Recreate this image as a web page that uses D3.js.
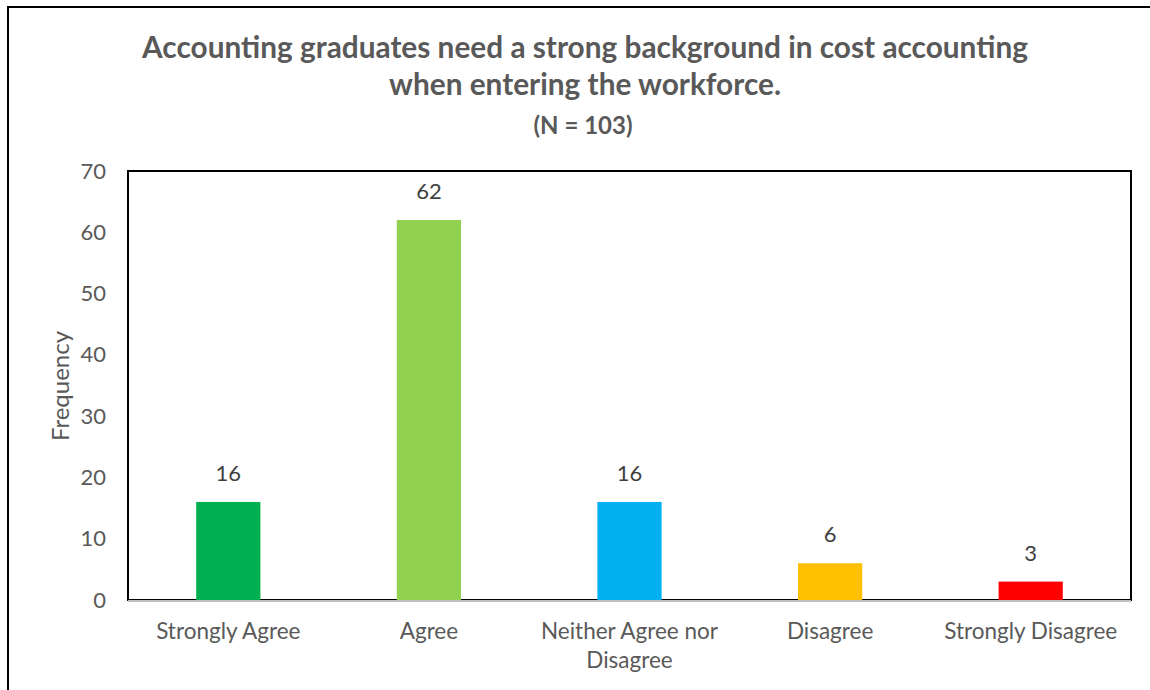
<!DOCTYPE html>
<html><head><meta charset="utf-8">
<script src="https://cdn.jsdelivr.net/npm/d3@7"></script>
<style>body{margin:0;background:#fff;} svg{display:block;}</style>
</head><body>
<svg id="chart" width="1150" height="690"></svg>
<script>
const categories = ["Strongly Agree", "Agree", "Neither Agree nor Disagree", "Disagree", "Strongly Disagree"];
const values = [16, 62, 16, 6, 3];
const colors = ["#00B050", "#92D050", "#00B0F0", "#FFC000", "#FF0000"];
const yTicks = [0, 10, 20, 30, 40, 50, 60, 70];
const titleLines = ["Accounting graduates need a strong background in cost accounting", "when entering the workforce."];
const subtitle = "(N = 103)";
const yLabel = "Frequency";

const svg = d3.select("#chart");
const font = "Lato, 'Open Sans', sans-serif";
const m = {left: 128, top: 171, right: 1131, bottom: 600};

// outer border
svg.append("rect").attr("x", 8).attr("y", 7).attr("width", 1160).attr("height", 700)
  .attr("fill", "none").attr("stroke", "#000").attr("stroke-width", 2);

const x = d3.scaleBand().domain(categories).range([m.left, m.right]).paddingInner(0.68).paddingOuter(0.34);
const y = d3.scaleLinear().domain([0, 70]).range([m.bottom, m.top]);

// title
const t = svg.append("g").attr("font-family", font).attr("font-weight", "bold").attr("fill", "#595959").attr("text-anchor", "middle");
titleLines.forEach((l, i) => t.append("text").attr("x", 585).attr("y", 58 + i * 37).attr("font-size", 29.8).text(l));
t.append("text").attr("x", 583).attr("y", 134).attr("font-size", 24).text(subtitle);

// plot frame
svg.append("rect").attr("x", m.left).attr("y", m.top).attr("width", m.right - m.left).attr("height", m.bottom - m.top)
  .attr("fill", "none").attr("stroke", "#000").attr("stroke-width", 2);

// bars
svg.append("g").selectAll("rect").data(values).join("rect")
  .attr("x", (d, i) => x(categories[i]))
  .attr("y", d => y(d))
  .attr("width", x.bandwidth())
  .attr("height", d => y(0) - y(d))
  .attr("fill", (d, i) => colors[i]);

// x axis line (gray)
svg.append("line").attr("x1", m.left).attr("x2", m.right).attr("y1", y(0) + 1).attr("y2", y(0) + 1)
  .attr("stroke", "#bfbfbf").attr("stroke-width", 2);

// data labels
svg.append("g").selectAll("text").data(values).join("text")
  .attr("x", (d, i) => x(categories[i]) + x.bandwidth() / 2)
  .attr("y", d => y(d) - 21)
  .attr("text-anchor", "middle").attr("font-family", font).attr("font-size", 22).attr("fill", "#404040")
  .text(d => d);

// y axis
const ya = svg.append("g").attr("transform", `translate(${m.left},0)`)
  .call(d3.axisLeft(y).tickValues(yTicks).tickSize(0).tickPadding(22));
ya.select(".domain").remove();
ya.selectAll("text").attr("font-family", font).attr("font-size", 22).attr("fill", "#595959");

// x axis labels
const xa = svg.append("g").attr("transform", `translate(0,${m.bottom})`)
  .call(d3.axisBottom(x).tickSize(0).tickPadding(0));
xa.select(".domain").remove();
xa.selectAll("text").remove();
const lines = {"Neither Agree nor Disagree": ["Neither Agree nor", "Disagree"]};
xa.selectAll(".tick").each(function(d) {
  const g = d3.select(this);
  const ls = lines[d] || [d];
  ls.forEach((l, i) => g.append("text").attr("y", 39 + i * 29).attr("text-anchor", "middle")
    .attr("font-family", font).attr("font-size", 22.5).attr("fill", "#595959").text(l));
});

// y label
svg.append("text").attr("transform", "translate(69,386) rotate(-90)")
  .attr("text-anchor", "middle").attr("font-family", font).attr("font-size", 24).attr("fill", "#595959").text(yLabel);
</script>
</body></html>
